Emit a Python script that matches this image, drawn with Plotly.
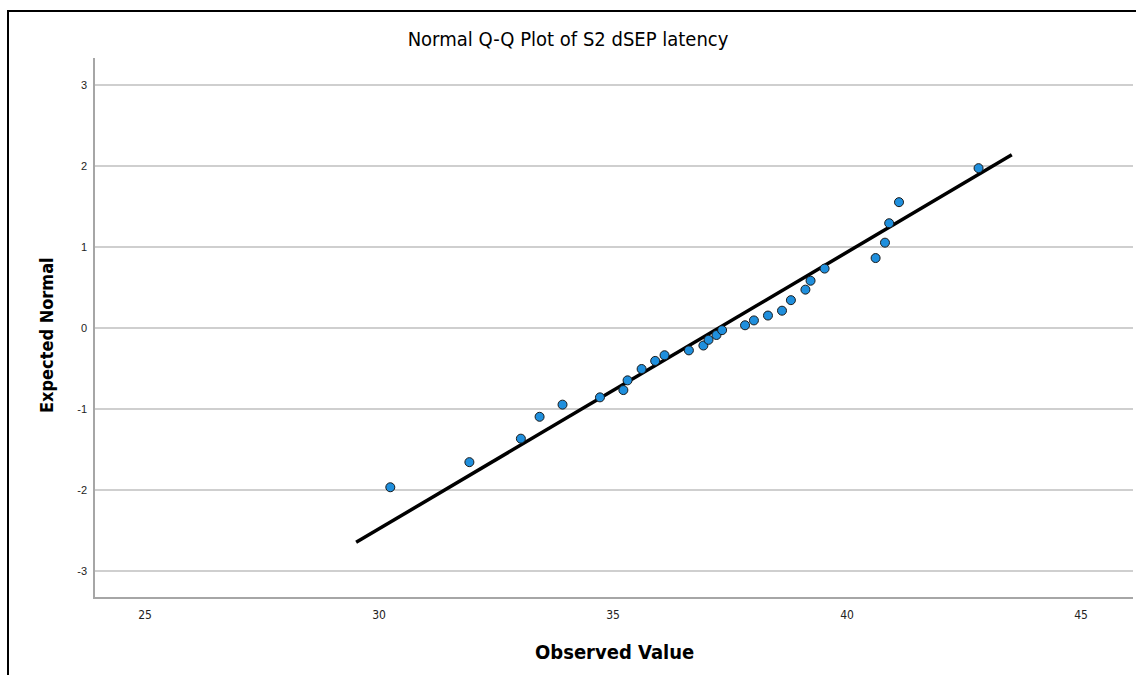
import plotly.graph_objects as go

observed = [30.24, 31.93, 33.03, 33.43, 33.92, 34.72, 35.22, 35.31, 35.61, 35.90,
            36.10, 36.62, 36.93, 37.04, 37.21, 37.33, 37.82, 38.01, 38.31, 38.61,
            38.80, 39.11, 39.22, 39.52, 40.61, 40.81, 40.90, 41.11, 42.81]
expected = [-1.97, -1.66, -1.37, -1.10, -0.95, -0.86, -0.77, -0.65, -0.51, -0.41,
            -0.34, -0.28, -0.22, -0.15, -0.09, -0.03, 0.03, 0.09, 0.15, 0.21,
            0.34, 0.47, 0.58, 0.73, 0.86, 1.05, 1.29, 1.55, 1.97]

# Reference line endpoints
line_x = [29.51, 43.52]
line_y = [-2.65, 2.135]

x_ticks = [25, 30, 35, 40, 45]
y_ticks = [-3, -2, -1, 0, 1, 2, 3]
y_tick_text = ["-3", "-2", "-1", "0", "1", "2", "3"]

W, H = 1136, 675
L, R, T, B = 95, 3, 58, 78
PW, PH = W - L - R, H - T - B


def px(x):
    return (x - L) / PW


def py(y):
    return (H - B - y) / PH


fig = go.Figure()
fig.add_trace(go.Scatter(x=line_x, y=line_y, mode="lines",
                         line=dict(color="black", width=3.5), showlegend=False,
                         hoverinfo="skip"))
fig.add_trace(go.Scatter(x=observed, y=expected, mode="markers",
                         marker=dict(size=9, color="#1F8FDD",
                                     line=dict(color="#1a1a1a", width=1)),
                         showlegend=False))

cond = "DejaVu Sans Condensed, Liberation Sans Narrow, Liberation Sans, Arial"
sans = "Liberation Sans, Arial"

fig.update_layout(
    width=W, height=H,
    margin=dict(l=L, r=R, t=T, b=B),
    paper_bgcolor="white", plot_bgcolor="white",
    title=dict(text="Normal Q-Q Plot of S2 dSEP latency", x=0.5, xref="container",
               xanchor="center", y=1 - 39 / H, yref="container", yanchor="middle",
               font=dict(family=cond, size=20, color="black")),
    xaxis=dict(range=[23.93, 46.11], tickvals=x_ticks, showgrid=False, zeroline=False,
               showline=True, linecolor="#a6a6a6", linewidth=1.5, ticks="",
               ticklabelstandoff=6,
               tickfont=dict(family=cond, size=12, color="#222")),
    yaxis=dict(range=[-3.325, 3.33], tickvals=y_ticks, ticktext=y_tick_text,
               showgrid=True, gridcolor="#cfcfcf", gridwidth=1.5, zeroline=False,
               showline=True, linecolor="#a6a6a6", linewidth=1.5, ticks="",
               ticklabelstandoff=4,
               tickfont=dict(family=sans, size=11, color="#222")),
    annotations=[
        dict(text="<b>Observed Value</b>", x=px(614), y=py(652), xref="paper", yref="paper",
             xanchor="center", yanchor="middle", showarrow=False,
             font=dict(family=cond, size=20, color="black")),
        dict(text="<b>Expected Normal</b>", x=px(46), y=py(335), xref="paper", yref="paper",
             xanchor="center", yanchor="middle", showarrow=False, textangle=-90,
             font=dict(family=cond, size=18, color="black")),
    ],
    shapes=[
        dict(type="path", xref="paper", yref="paper",
             path=f"M {px(8)},{py(700)} L {px(8)},{py(11)} L {px(1200)},{py(11)}",
             line=dict(color="black", width=2)),
    ],
)

fig.write_html("out.html")
